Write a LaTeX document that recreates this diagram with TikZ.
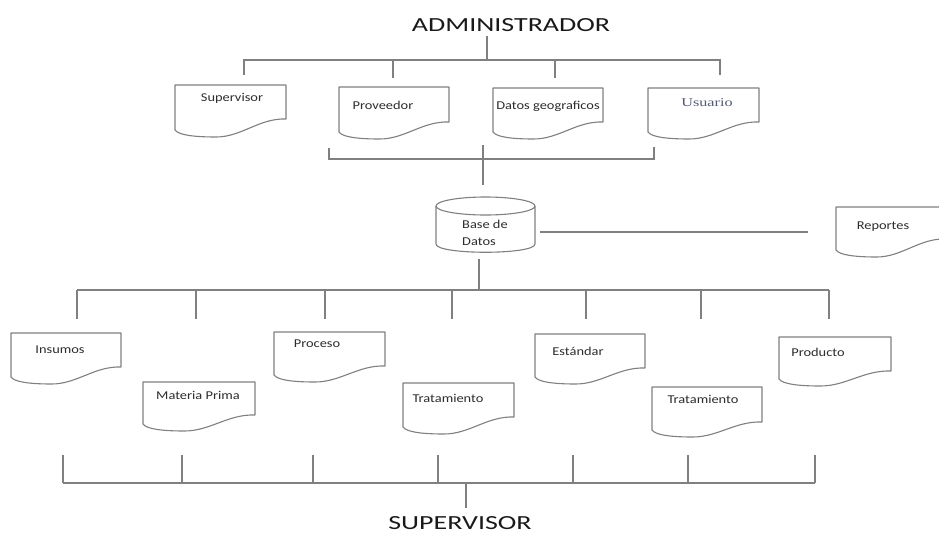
\documentclass[tikz,border=0pt]{standalone}
\usepackage{fontspec}
\setmainfont{Carlito}
\newfontfamily\lblfont[FakeStretch=1.2]{Carlito}
\newfontfamily\ttlfont[FakeStretch=1.4]{Carlito}
\newfontfamily\srffont[FakeStretch=1.35]{Liberation Serif}
\definecolor{linegray}{RGB}{128,128,128}
\definecolor{txtgray}{RGB}{45,45,45}
\definecolor{usrgray}{RGB}{85,90,115}
\tikzset{
  conn/.style={draw=linegray, line width=1.1pt},
  docline/.style={draw=linegray, line width=1.1pt, fill=white, line join=round},
  lbl/.style={font=\lblfont\fontsize{12}{17}\selectfont, text=txtgray, inner sep=0pt},
  srflbl/.style={font=\srffont\fontsize{12}{14}\selectfont, text=usrgray, inner sep=0pt},
  ttl/.style={font=\ttlfont\fontsize{20}{24}\selectfont, text=black!90, inner sep=0pt},
}
% document shape: x1, y1(top), x2, yr (right bottom), yl (left bottom)
\newcommand\docshape[5]{%
  \pgfmathsetmacro\docW{#3-#1}%
  \draw[docline] (#1,#2) -- (#3,#2) -- (#3,#4)
    .. controls ({#1+0.76*\docW},{#4-1}) and ({#1+0.6*\docW},{#5+7}) .. ({#1+0.37*\docW},{#5+7})
    .. controls ({#1+0.17*\docW},{#5+7}) and ({#1+0.03*\docW},{#5+5}) .. (#1,#5) -- cycle;}
\begin{document}
\begin{tikzpicture}[x=1pt,y=-1pt]
\useasboundingbox[fill=white] (0,0) rectangle (939,536);

% ---------- titles ----------
\node[ttl] (admin) at (511,25) {ADMINISTRADOR};
\node[ttl] (sup) at (460,523) {SUPERVISOR};

% ---------- top tree ----------
\coordinate (a0) at (487,36);
\coordinate (a1) at (487,60);
\coordinate (tL) at (244,60);
\coordinate (tR) at (720,60);
\coordinate (tLd) at (244,75);
\coordinate (tRd) at (720,75);
\coordinate (t2) at (393,60);
\coordinate (t2d) at (393,78);
\coordinate (t3) at (555,60);
\coordinate (t3d) at (555,78);
\draw[conn] (a0) -- (a1);
\draw[conn] (tLd) -- (tL) -- (tR) -- (tRd);
\draw[conn] (t2) -- (t2d);
\draw[conn] (t3) -- (t3d);

% ---------- top documents ----------
\docshape{175}{85}{286}{119}{130}
\node[lbl] (supervisor) at (232,98) {Supervisor};
\docshape{339}{87}{449}{122}{132}
\node[lbl] (proveedor) at (383,105) {Proveedor};
\docshape{493}{88}{603}{122}{132}
\node[lbl] (datosgeo) at (548,106) {Datos geograficos};
\docshape{648}{88}{759}{122}{132}
\node[srflbl] (usuario) at (707,103) {Usuario};

% ---------- middle bracket ----------
\coordinate (mL) at (329,148);
\coordinate (mLb) at (329,159);
\coordinate (mRb) at (654,159);
\coordinate (mR) at (654,147);
\coordinate (m0) at (483,145);
\coordinate (m1) at (483,185);
\draw[conn] (mL) -- (mLb) -- (mRb) -- (mR);
\draw[conn] (m0) -- (m1);

% ---------- database cylinder ----------
\draw[docline] (436,206) -- (436,244) .. controls (436,255) and (535,255) .. (535,244) -- (535,206);
\draw[docline] (485.5,206) ellipse [x radius=49.5pt, y radius=9pt];
\node[lbl, align=left, anchor=west] (db) at (462,232.5) {Base de\\Datos};

% ---------- reportes ----------
\coordinate (r0) at (540,232);
\coordinate (r1) at (808,232);
\draw[conn] (r0) -- (r1);
\docshape{836}{207}{946}{239}{250}
\node[lbl] (reportes) at (883,227) {Reportes};

% ---------- lower tree ----------
\coordinate (b0) at (479,259);
\coordinate (b1) at (479,290);
\draw[conn] (b0) -- (b1);
\coordinate (bL) at (77,290);
\coordinate (bR) at (829,290);
\draw[conn] (bL) -- (bR);
\foreach \xx [count=\i] in {77,196,325,452,586,701,829}{
  \coordinate (bt\i) at (\xx,290);
  \coordinate (bd\i) at (\xx,319);
  \draw[conn] (bt\i) -- (bd\i);
}

% ---------- lower documents ----------
\docshape{11}{333}{121}{367}{377}
\node[lbl] (insumos) at (60,350) {Insumos};
\docshape{143}{382}{255}{415}{424}
\node[lbl] (materia) at (198,395) {Materia Prima};
\docshape{274}{332}{385}{366}{375}
\node[lbl] (proceso) at (317,344) {Proceso};
\docshape{403}{383}{514}{417}{427}
\node[lbl] (trat1) at (448,398) {Tratamiento};
\docshape{535}{334}{645}{368}{377}
\node[lbl] (estandar) at (578,351) {Estándar};
\docshape{652}{387}{762}{422}{430}
\node[lbl] (trat2) at (703,399) {Tratamiento};
\docshape{779}{337}{891}{371}{379}
\node[lbl] (producto) at (818,352) {Producto};

% ---------- bottom bracket ----------
\coordinate (sL) at (63,483);
\coordinate (sR) at (815,483);
\draw[conn] (sL) -- (sR);
\foreach \xx [count=\i] in {63,182,313,438,573,688,815}{
  \coordinate (st\i) at (\xx,455);
  \coordinate (sb\i) at (\xx,483);
  \draw[conn] (st\i) -- (sb\i);
}
\coordinate (s0) at (466,483);
\coordinate (s1) at (466,508);
\draw[conn] (s0) -- (s1);
\end{tikzpicture}
\end{document}
